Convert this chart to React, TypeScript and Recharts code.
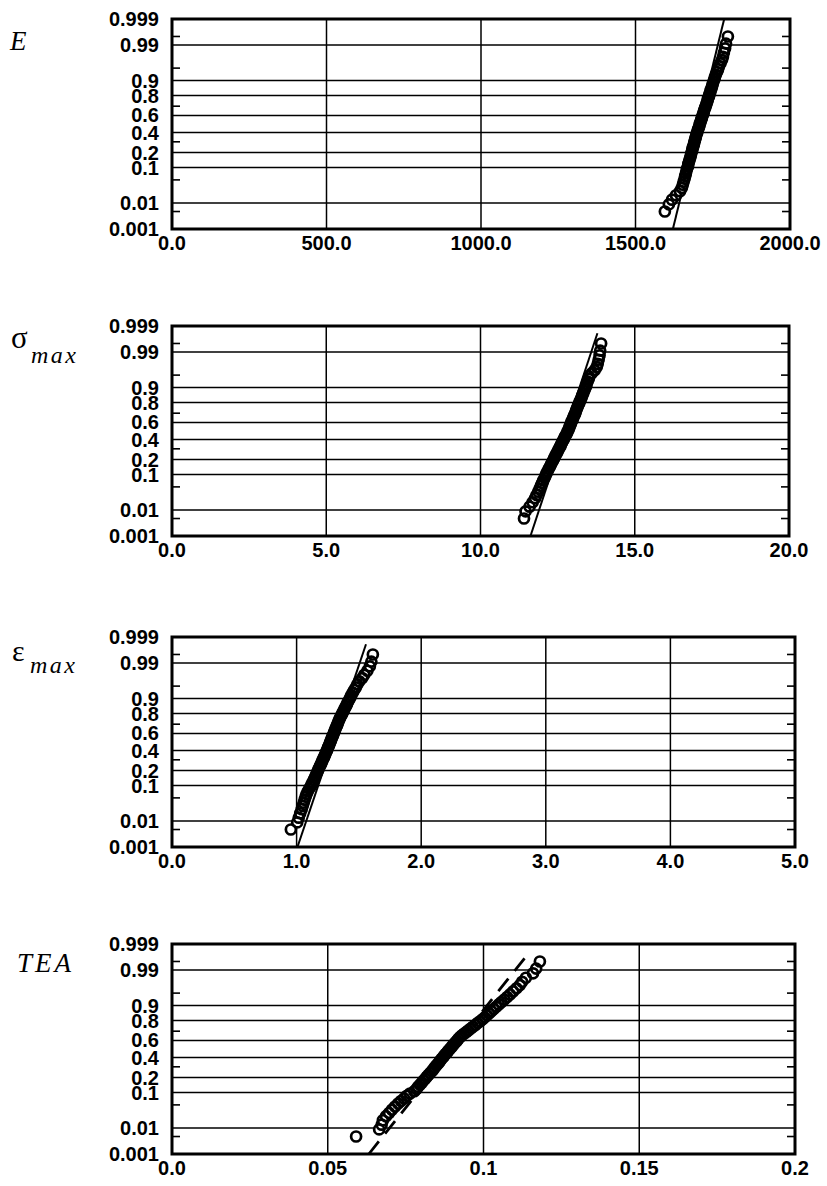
import React from "react";
import { ScatterChart, Scatter, XAxis, YAxis, CartesianGrid, ReferenceArea, ReferenceLine } from "recharts";

// cumulative probability (plotting position) of each ranked specimen
const probs = [
  0.005, 0.009, 0.013, 0.018, 0.024, 0.03, 0.037, 0.045, 0.054, 0.063,
  0.073, 0.084, 0.095, 0.107, 0.12, 0.133, 0.147, 0.161, 0.176, 0.191,
  0.207, 0.223, 0.24, 0.257, 0.274, 0.292, 0.31, 0.328, 0.346, 0.365,
  0.384, 0.403, 0.422, 0.441, 0.46, 0.48, 0.5, 0.52, 0.54, 0.56,
  0.578, 0.597, 0.616, 0.635, 0.654, 0.672, 0.69, 0.708, 0.726, 0.743,
  0.76, 0.777, 0.793, 0.809, 0.824, 0.839, 0.853, 0.867, 0.88, 0.893,
  0.905, 0.916, 0.927, 0.937, 0.946, 0.955, 0.963, 0.97, 0.976, 0.982,
  0.987, 0.991, 0.995,
];

const eValues = [
  1595, 1608, 1618, 1631, 1644, 1650, 1653, 1656, 1659, 1661,
  1663, 1665, 1667, 1670, 1671, 1673, 1675, 1677, 1679, 1680,
  1682, 1684, 1685, 1687, 1689, 1690, 1692, 1693, 1695, 1696,
  1698, 1700, 1701, 1703, 1705, 1707, 1708, 1710, 1712, 1714,
  1715, 1717, 1719, 1721, 1722, 1724, 1726, 1728, 1730, 1732,
  1734, 1735, 1738, 1739, 1742, 1743, 1746, 1748, 1750, 1752,
  1755, 1757, 1760, 1764, 1767, 1770, 1775, 1780, 1783, 1786,
  1790, 1793, 1799,
];

const sigmaValues = [
  11.41, 11.46, 11.59, 11.69, 11.77, 11.82, 11.87, 11.92, 11.96, 12.0,
  12.03, 12.08, 12.11, 12.14, 12.18, 12.21, 12.25, 12.28, 12.31, 12.35,
  12.38, 12.41, 12.44, 12.47, 12.5, 12.53, 12.56, 12.59, 12.61, 12.64,
  12.67, 12.7, 12.72, 12.75, 12.78, 12.81, 12.83, 12.86, 12.88, 12.9,
  12.92, 12.94, 12.96, 12.99, 13.01, 13.03, 13.06, 13.08, 13.1, 13.12,
  13.15, 13.17, 13.2, 13.22, 13.25, 13.28, 13.3, 13.33, 13.36, 13.39,
  13.42, 13.44, 13.47, 13.51, 13.52, 13.6, 13.7, 13.77, 13.8, 13.83,
  13.86, 13.88, 13.91,
];

const epsValues = [
  0.954, 1.005, 1.017, 1.029, 1.041, 1.049, 1.057, 1.065, 1.073, 1.081,
  1.089, 1.101, 1.113, 1.121, 1.13, 1.138, 1.146, 1.153, 1.16, 1.167,
  1.174, 1.181, 1.188, 1.195, 1.201, 1.207, 1.214, 1.22, 1.226, 1.232,
  1.238, 1.244, 1.249, 1.254, 1.26, 1.265, 1.271, 1.276, 1.281, 1.287,
  1.292, 1.297, 1.303, 1.308, 1.313, 1.319, 1.325, 1.33, 1.336, 1.342,
  1.349, 1.356, 1.364, 1.371, 1.379, 1.387, 1.396, 1.404, 1.412, 1.422,
  1.431, 1.439, 1.451, 1.463, 1.475, 1.487, 1.503, 1.527, 1.543, 1.568,
  1.588, 1.6, 1.612,
];

const teaValues = [
  0.0591, 0.0665, 0.0673, 0.0677, 0.0687, 0.0697, 0.0706, 0.0716, 0.0726, 0.0735,
  0.0745, 0.0754, 0.0764, 0.0778, 0.0785, 0.079, 0.0796, 0.0802, 0.0807, 0.0813,
  0.0818, 0.0823, 0.0829, 0.0834, 0.0839, 0.0843, 0.0848, 0.0852, 0.0857, 0.0861,
  0.0865, 0.087, 0.0874, 0.0878, 0.0883, 0.0887, 0.0892, 0.0897, 0.0901, 0.0906,
  0.091, 0.0915, 0.0919, 0.0924, 0.093, 0.0937, 0.0944, 0.0951, 0.0959, 0.0966,
  0.0974, 0.0981, 0.0989, 0.0997, 0.1004, 0.1011, 0.1018, 0.1025, 0.1033, 0.1041,
  0.1049, 0.1057, 0.1067, 0.1076, 0.1085, 0.1095, 0.1106, 0.1117, 0.1124, 0.1136,
  0.1159, 0.1169, 0.1181,
];

// fitted distribution lines, [value, probability] at each end
const eFit = [[1621, 0.001], [1787, 0.999]];
const sigmaFit = [[11.62, 0.001], [13.79, 0.998]];
const epsFit = [[1.007, 0.001], [1.557, 0.998]];
const teaFit = [[0.0632, 0.001], [0.115, 0.998]];

const probTicks = [0.001, 0.01, 0.1, 0.2, 0.4, 0.6, 0.8, 0.9, 0.99, 0.999];
const probLabels = ["0.001", "0.01", "0.1", "0.2", "0.4", "0.6", "0.8", "0.9", "0.99", "0.999"];
const minorProbs = [0.005, 0.05, 0.3, 0.7, 0.95, 0.995];

const eTicks = [0, 500, 1000, 1500, 2000];
const eLabels = ["0.0", "500.0", "1000.0", "1500.0", "2000.0"];
const sigmaTicks = [0, 5, 10, 15, 20];
const sigmaLabels = ["0.0", "5.0", "10.0", "15.0", "20.0"];
const epsTicks = [0, 1, 2, 3, 4, 5];
const epsLabels = ["0.0", "1.0", "2.0", "3.0", "4.0", "5.0"];
const teaTicks = [0, 0.05, 0.1, 0.15, 0.2];
const teaLabels = ["0.0", "0.05", "0.1", "0.15", "0.2"];

// inverse standard normal cdf (Acklam) -> normal probability paper scale
function probit(p: number): number {
  const a = [-39.69683028665376, 220.9460984245205, -275.9285104469687, 138.357751867269, -30.66479806614716, 2.506628277459239];
  const b = [-54.47609879822406, 161.5858368580409, -155.6989798598866, 66.80131188771972, -13.28068155288572];
  const c = [-0.007784894002430293, -0.3223964580411365, -2.400758277161838, -2.549732539343734, 4.374664141464968, 2.938163982698783];
  const d = [0.007784695709041462, 0.3224671290700398, 2.445134137142996, 3.754408661907416];
  const lo = 0.02425;
  if (p < lo) {
    const q = Math.sqrt(-2 * Math.log(p));
    return (((((c[0] * q + c[1]) * q + c[2]) * q + c[3]) * q + c[4]) * q + c[5]) /
      ((((d[0] * q + d[1]) * q + d[2]) * q + d[3]) * q + 1);
  }
  if (p > 1 - lo) {
    const q = Math.sqrt(-2 * Math.log(1 - p));
    return -(((((c[0] * q + c[1]) * q + c[2]) * q + c[3]) * q + c[4]) * q + c[5]) /
      ((((d[0] * q + d[1]) * q + d[2]) * q + d[3]) * q + 1);
  }
  const q = p - 0.5;
  const r = q * q;
  return ((((((a[0] * r + a[1]) * r + a[2]) * r + a[3]) * r + a[4]) * r + a[5]) * q) /
    (((((b[0] * r + b[1]) * r + b[2]) * r + b[3]) * r + b[4]) * r + 1);
}

const zTicks = probTicks.map(probit);
const zMinor = minorProbs.map(probit);
const zMin = zTicks[0];
const zMax = zTicks[zTicks.length - 1];

const tickFont = {
  fill: "#000",
  fontSize: 20,
  fontWeight: 700,
  fontFamily: "'Liberation Sans', Arial, sans-serif",
};

const PLOT_LEFT = 172;
const PLOT_H = 210;
const MARGIN_TOP = 19;
const MINOR_LEN = 8; // px, inner tick marks on both frame sides

function filledDot(props: any) {
  return <circle cx={props.cx} cy={props.cy} r={5} fill="#fff" stroke="none" />;
}
function ringDot(props: any) {
  return <circle cx={props.cx} cy={props.cy} r={5} fill="none" stroke="#000" strokeWidth={2.7} />;
}
function noDot() {
  return <g />;
}

interface PanelProps {
  top: number;
  right: number;
  values: number[];
  fit: number[][];
  xTicks: number[];
  xLabels: string[];
  dashed?: boolean;
}

function ProbPanel({ top, right, values, fit, xTicks, xLabels, dashed = false }: PanelProps) {
  const pts = probs.map((p, i) => ({ x: values[i], z: probit(p) }));
  const fitPts = fit.map(([x, p]) => ({ x, z: probit(p) }));
  const xMax = xTicks[xTicks.length - 1];
  const tickLen = (xMax * MINOR_LEN) / (right - PLOT_LEFT);
  return (
    <div style={{ position: "absolute", left: 0, top: top - MARGIN_TOP }}>
      <ScatterChart
        width={827}
        height={MARGIN_TOP + PLOT_H + 45}
        margin={{ top: MARGIN_TOP, right: 827 - right, bottom: 5, left: 0 }}
      >
        <CartesianGrid stroke="#000" strokeWidth={1.5} />
        <XAxis
          type="number"
          dataKey="x"
          domain={[0, xMax]}
          ticks={xTicks}
          interval={0}
          height={40}
          axisLine={false}
          tickLine={false}
          tickSize={0}
          tickMargin={7}
          tick={tickFont}
          tickFormatter={(_v: number, i: number) => xLabels[i]}
        />
        <YAxis
          type="number"
          dataKey="z"
          domain={[zMin, zMax]}
          ticks={zTicks}
          interval={0}
          width={PLOT_LEFT}
          axisLine={false}
          tickLine={false}
          tickSize={0}
          tickMargin={13}
          tick={tickFont}
          tickFormatter={(_v: number, i: number) => probLabels[i]}
        />
        {zMinor.map((z) => (
          <ReferenceLine
            key={`l${z}`}
            segment={[{ x: 0, y: z }, { x: tickLen, y: z }]}
            stroke="#000"
            strokeWidth={1.6}
          />
        ))}
        {zMinor.map((z) => (
          <ReferenceLine
            key={`r${z}`}
            segment={[{ x: xMax - tickLen, y: z }, { x: xMax, y: z }]}
            stroke="#000"
            strokeWidth={1.6}
          />
        ))}
        <ReferenceArea
          x1={0}
          x2={xMax}
          y1={zMin}
          y2={zMax}
          fill="none"
          fillOpacity={0}
          stroke="#000"
          strokeWidth={3}
          ifOverflow="visible"
        />
        <Scatter
          data={fitPts}
          line={{ stroke: "#000", strokeWidth: dashed ? 2.8 : 2, strokeDasharray: dashed ? "16 10" : undefined }}
          shape={noDot}
          isAnimationActive={false}
        />
        <Scatter data={pts} shape={filledDot} isAnimationActive={false} />
        <Scatter data={pts} shape={ringDot} isAnimationActive={false} />
      </ScatterChart>
    </div>
  );
}

const serif = "'Liberation Serif', 'Times New Roman', serif";

function Titles() {
  return (
    <svg width={827} height={1186} style={{ position: "absolute", left: 0, top: 0, pointerEvents: "none" }}>
      <text x={10} y={50} fontFamily={serif} fontStyle="italic" fontSize={27}>E</text>
      <text x={11} y={348} fontFamily={serif} fontSize={31}>σ</text>
      <text x={31} y={363} fontFamily={serif} fontStyle="italic" fontSize={24} letterSpacing={2.5}>max</text>
      <text x={12} y={661} fontFamily={serif} fontSize={30}>ε</text>
      <text x={30} y={673} fontFamily={serif} fontStyle="italic" fontSize={24} letterSpacing={2.5}>max</text>
      <text x={17} y={972} fontFamily={serif} fontStyle="italic" fontSize={27} letterSpacing={3}>TEA</text>
    </svg>
  );
}

export default function App() {
  return (
    <div style={{ position: "absolute", left: 0, top: 0, width: 827, height: 1186, background: "#fff" }}>
      <ProbPanel top={19} right={790} values={eValues} fit={eFit} xTicks={eTicks} xLabels={eLabels} />
      <ProbPanel top={326} right={789} values={sigmaValues} fit={sigmaFit} xTicks={sigmaTicks} xLabels={sigmaLabels} />
      <ProbPanel top={637} right={795} values={epsValues} fit={epsFit} xTicks={epsTicks} xLabels={epsLabels} />
      <ProbPanel top={944} right={795} values={teaValues} fit={teaFit} xTicks={teaTicks} xLabels={teaLabels} dashed />
      <Titles />
    </div>
  );
}
